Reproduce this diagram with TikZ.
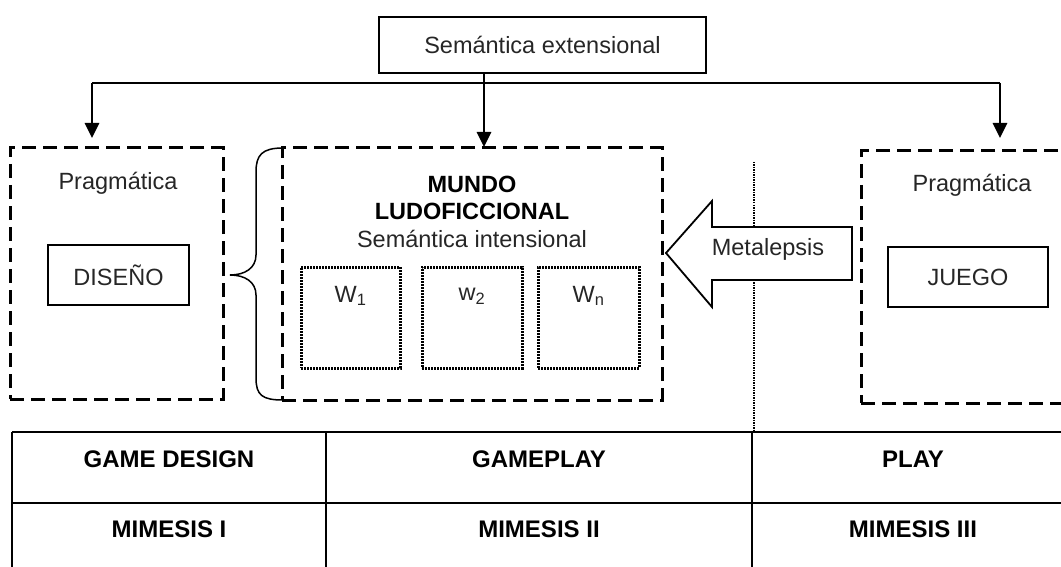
\documentclass[tikz,border=0pt]{standalone}
\usepackage{fontspec}
\setmainfont{Liberation Sans}
\usetikzlibrary{arrows.meta}
\tikzset{
  dashbox/.style={draw, line width=3pt, dash pattern=on 14pt off 7pt, rectangle, inner sep=0pt},
  solidbox/.style={draw, line width=1.6pt, rectangle, inner sep=0pt},
  dotbox/.style={draw, line width=3pt, dash pattern=on 2pt off 1pt, rectangle, inner sep=0pt},
  lbl/.style={inner sep=0pt, font=\fontsize{23.5}{28}\selectfont, text=black!85},
  tbl/.style={inner sep=0pt, font=\fontsize{24}{28}\selectfont\bfseries},
  arr/.style={line width=2.7pt, -{Triangle[length=15pt,width=14pt]}},
}
\begin{document}
\begin{tikzpicture}[x=1pt,y=-1pt]
\useasboundingbox (0,0) rectangle (1061,567);
\clip (0,0) rectangle (1061,567);
% top box
\node[solidbox, minimum width=327pt, minimum height=56pt] (ext) at (542.5,45) {};
\node[lbl] (extt) at (ext.center) {Semántica extensional};
% boxes
\node[dashbox, minimum width=213pt, minimum height=251pt] (lbox) at (116.5,273.5) {};
\node[dashbox, minimum width=380pt, minimum height=252pt] (mbox) at (472,274) {};
\node[dashbox, minimum width=214pt, minimum height=252pt] (rbox) at (968,277) {};
% connectors
\coordinate (hub) at (484,83);
\coordinate (lt) at (92,138);
\coordinate (rt) at (1000,138);
\coordinate (mt) at (484,147);
\draw[line width=2pt] (ext.south -| hub) -- (hub);
\draw[line width=1.8pt] (lt |- hub) -- (rt |- hub);
\draw[arr] (lt |- hub) -- (lt);
\draw[arr] (rt |- hub) -- (rt);
\draw[arr] (hub) -- (mt);
% left content
\node[lbl] (prag1) at (118,183) {Pragmática};
\node[solidbox, minimum width=141pt, minimum height=60pt] (dis) at (118.5,275) {};
\node[lbl] at (dis.center) {DISEÑO};
% brace
\draw[line width=1.5pt] (283,148) .. controls (262,148) and (256,155) .. (256,172)
  -- (256,255) .. controls (256,268) and (245,275) .. (230,275)
  .. controls (245,275) and (256,282) .. (256,295)
  -- (256,378) .. controls (256,395) and (262,400) .. (283,400);
% middle content
\node[lbl, font=\fontsize{23.5}{28}\selectfont\bfseries, text=black] (mundo) at (472,184) {MUNDO};
\node[lbl, font=\fontsize{23.5}{28}\selectfont\bfseries, text=black] (ludo) at (472,211) {LUDOFICCIONAL};
\node[lbl] (sint) at (472,239) {Semántica intensional};
\node[dotbox, minimum width=99pt, minimum height=101pt] (w1) at (350.5,317.5) {};
\node[dotbox, minimum width=100pt, minimum height=101pt] (w2) at (472,317.5) {};
\node[dotbox, minimum width=101pt, minimum height=101pt] (wn) at (588.5,317.5) {};
\node[lbl] (w1t) at (w1.center |- 0,296) {W\textsubscript{1}};
\node[lbl] (w2t) at (w2.center |- 0,296) {w\textsubscript{2}};
\node[lbl] (wnt) at (wn.center |- 0,296) {W\textsubscript{n}};
% dotted divider
\coordinate (dtop) at (754,162);
\coordinate (dbot) at (754,432);
\draw[line width=2pt, dash pattern=on 1.5pt off 1pt] (dtop) -- (dbot);
% metalepsis arrow
\draw[line width=1.8pt, fill=white, line join=miter]
  (666,253) -- (712,201) -- (712,227) -- (852,227) -- (852,280) -- (712,280) -- (712,307) -- cycle;
\node[lbl] (meta) at (768,249) {Metalepsis};
% right content
\node[lbl] (prag2) at (972,185) {Pragmática};
\node[solidbox, minimum width=160pt, minimum height=60pt] (jue) at (968,277) {};
\node[lbl] at (jue.center) {JUEGO};
% table
\draw[line width=1.8pt] (12,432) -- (1080,432);
\draw[line width=1.8pt] (12,503) -- (1080,503);
\draw[line width=1.8pt] (12,432) -- (12,570);
\draw[line width=1.8pt] (326,432) -- (326,570);
\draw[line width=1.8pt] (752,432) -- (752,570);
\node[tbl] (c11) at (169,459) {GAME DESIGN};
\node[tbl] (c12) at (539,459) {GAMEPLAY};
\node[tbl] (c13) at (913,459) {PLAY};
\node[tbl] (c21) at (169,529) {MIMESIS I};
\node[tbl] (c22) at (539,529) {MIMESIS II};
\node[tbl] (c23) at (913,529) {MIMESIS III};
\end{tikzpicture}
\end{document}
